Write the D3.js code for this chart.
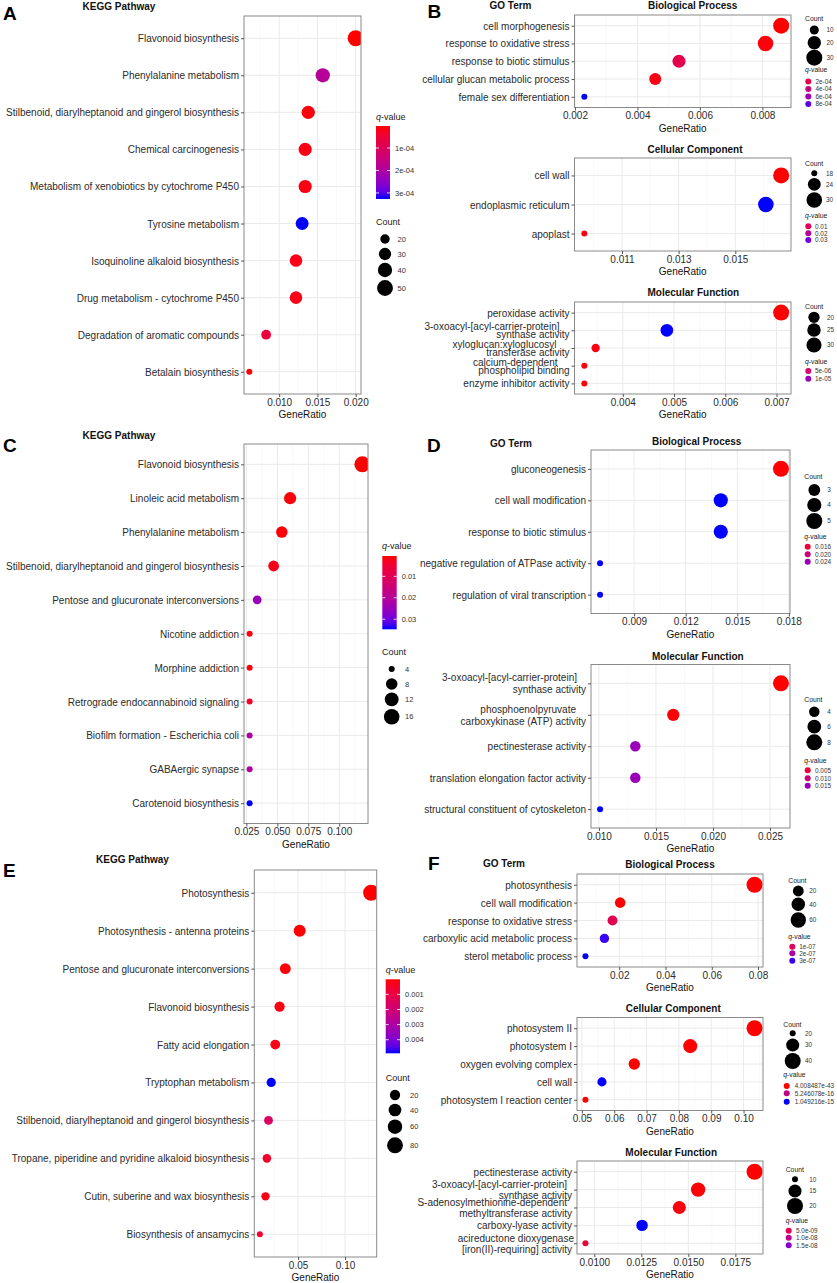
<!DOCTYPE html>
<html>
<head>
<meta charset="utf-8">
<script src="https://cdn.jsdelivr.net/npm/d3@7"></script>
<style>
  body { margin: 0; background: #fff; }
  svg { font-family: "Liberation Sans", Arial, Helvetica, sans-serif; }
</style>
</head>
<body>
<svg id="fig" width="837" height="1283"></svg>
<script>
// ---- data ----
// A: KEGG
const aTerms = ["Flavonoid biosynthesis", "Phenylalanine metabolism", "Stilbenoid, diarylheptanoid and gingerol biosynthesis",
  "Chemical carcinogenesis", "Metabolism of xenobiotics by cytochrome P450", "Tyrosine metabolism",
  "Isoquinoline alkaloid biosynthesis", "Drug metabolism - cytochrome P450", "Degradation of aromatic compounds", "Betalain biosynthesis"];
const aRatio = [0.0200, 0.0157, 0.0138, 0.0134, 0.0134, 0.0130, 0.0122, 0.0122, 0.0083, 0.0061];
const aCount = [51, 40, 35, 34, 34, 33, 31, 31, 21, 16];
const aQ = [2e-6, 1.85e-4, 8e-6, 1.2e-5, 1.2e-5, 3.27e-4, 1.5e-5, 1.5e-5, 6e-5, 5e-6];
const aTicks = [0.010, 0.015, 0.020];
const aCountBreaks = [20, 30, 40, 50];
const aQBreaks = [1e-4, 2e-4, 3e-4];
const aQLabels = ["1e-04", "2e-04", "3e-04"];

// B: GO
const bBpTerms = ["cell morphogenesis", "response to oxidative stress", "response to biotic stimulus",
  "cellular glucan metabolic process", "female sex differentiation"];
const bBpRatio = [0.0086, 0.0081, 0.00533, 0.00457, 0.0023];
const bBpCount = [30, 28, 19, 16, 8];
const bBpQ = [1e-5, 3e-5, 2.2e-4, 4e-5, 8.8e-4];
const bBpTicks = [0.002, 0.004, 0.006, 0.008];
const bBpCountBreaks = [10, 20, 30];
const bBpQBreaks = [2e-4, 4e-4, 6e-4, 8e-4];
const bBpQLabels = ["2e-04", "4e-04", "6e-04", "8e-04"];

const bCcTerms = ["cell wall", "endoplasmic reticulum", "apoplast"];
const bCcRatio = [0.01662, 0.01608, 0.00967];
const bCcCount = [31, 30, 18];
const bCcQ = [0.001, 0.035, 0.002];
const bCcTicks = [0.011, 0.013, 0.015];
const bCcCountBreaks = [18, 24, 30];
const bCcQBreaks = [0.01, 0.02, 0.03];
const bCcQLabels = ["0.01", "0.02", "0.03"];

const bMfTerms = ["peroxidase activity", "3-oxoacyl-[acyl-carrier-protein]\nsynthase activity",
  "xyloglucan:xyloglucosyl\ntransferase activity", "calcium-dependent\nphospholipid binding", "enzyme inhibitor activity"];
const bMfRatio = [0.00709, 0.00486, 0.00347, 0.00325, 0.00325];
const bMfCount = [33, 23, 16, 15, 15];
const bMfQ = [1e-7, 1.42e-5, 5e-7, 3e-7, 3e-7];
const bMfTicks = [0.004, 0.005, 0.006, 0.007];
const bMfCountBreaks = [20, 25, 30];
const bMfQBreaks = [5e-6, 1e-5];
const bMfQLabels = ["5e-06", "1e-05"];

// C: KEGG
const cTerms = ["Flavonoid biosynthesis", "Linoleic acid metabolism", "Phenylalanine metabolism",
  "Stilbenoid, diarylheptanoid and gingerol biosynthesis", "Pentose and glucuronate interconversions",
  "Nicotine addiction", "Morphine addiction", "Retrograde endocannabinoid signaling",
  "Biofilm formation - Escherichia coli", "GABAergic synapse", "Carotenoid biosynthesis"];
const cRatio = [0.1187, 0.0603, 0.0536, 0.0470, 0.0337, 0.0276, 0.0276, 0.0276, 0.0276, 0.0276, 0.0276];
const cCount = [17, 9, 8, 7, 5, 4, 4, 4, 4, 4, 4];
const cQ = [0.0005, 0.001, 0.001, 0.002, 0.025, 0.001, 0.001, 0.004, 0.021, 0.021, 0.0347];
const cTicks = [0.025, 0.050, 0.075, 0.100];
const cCountBreaks = [4, 8, 12, 16];
const cQBreaks = [0.01, 0.02, 0.03];
const cQLabels = ["0.01", "0.02", "0.03"];

// D: GO
const dBpTerms = ["gluconeogenesis", "cell wall modification", "response to biotic stimulus",
  "negative regulation of ATPase activity", "regulation of viral transcription"];
const dBpRatio = [0.01754, 0.01404, 0.01404, 0.00702, 0.00702];
const dBpCount = [5, 4, 4, 2, 2];
const dBpQ = [0.0138, 0.0283, 0.0283, 0.0283, 0.0283];
const dBpTicks = [0.009, 0.012, 0.015, 0.018];
const dBpCountBreaks = [3, 4, 5];
const dBpQBreaks = [0.016, 0.020, 0.024];
const dBpQLabels = ["0.016", "0.020", "0.024"];

const dMfTerms = ["3-oxoacyl-[acyl-carrier-protein]\nsynthase activity", "phosphoenolpyruvate\ncarboxykinase (ATP) activity",
  "pectinesterase activity", "translation elongation factor activity", "structural constituent of cytoskeleton"];
const dMfRatio = [0.02596, 0.01652, 0.01319, 0.01319, 0.01010];
const dMfCount = [8, 5, 4, 4, 3];
const dMfQ = [0.0023, 0.0025, 0.0150, 0.0150, 0.0203];
const dMfTicks = [0.010, 0.015, 0.020, 0.025];
const dMfCountBreaks = [4, 6, 8];
const dMfQBreaks = [0.005, 0.010, 0.015];
const dMfQLabels = ["0.005", "0.010", "0.015"];

// E: KEGG
const eTerms = ["Photosynthesis", "Photosynthesis - antenna proteins", "Pentose and glucuronate interconversions",
  "Flavonoid biosynthesis", "Fatty acid elongation", "Tryptophan metabolism",
  "Stilbenoid, diarylheptanoid and gingerol biosynthesis", "Tropane, piperidine and pyridine alkaloid biosynthesis",
  "Cutin, suberine and wax biosynthesis", "Biosynthesis of ansamycins"];
const eRatio = [0.1278, 0.0517, 0.0364, 0.0303, 0.0257, 0.0214, 0.0185, 0.0168, 0.0153, 0.0093];
const eCount = [82, 33, 24, 20, 17, 14, 12, 11, 10, 6];
const eQ = [1e-6, 5e-5, 1e-4, 1.5e-4, 2e-4, 0.0049, 0.0016, 0.0005, 0.0002, 0.0006];
const eTicks = [0.05, 0.10];
const eCountBreaks = [20, 40, 60, 80];
const eQBreaks = [0.001, 0.002, 0.003, 0.004];
const eQLabels = ["0.001", "0.002", "0.003", "0.004"];

// F: GO
const fBpTerms = ["photosynthesis", "cell wall modification", "response to oxidative stress",
  "carboxylic acid metabolic process", "sterol metabolic process"];
const fBpRatio = [0.0785, 0.0204, 0.0171, 0.0136, 0.0054];
const fBpCount = [68, 18, 15, 12, 5];
const fBpQ = [1.5e-8, 1.5e-8, 9e-8, 3.0e-7, 3.1e-7];
const fBpTicks = [0.02, 0.04, 0.06, 0.08];
const fBpCountBreaks = [20, 40, 60];
const fBpQBreaks = [1e-7, 2e-7, 3e-7];
const fBpQLabels = ["1e-07", "2e-07", "3e-07"];

const fCcTerms = ["photosystem II", "photosystem I", "oxygen evolving complex", "cell wall", "photosystem I reaction center"];
const fCcRatio = [0.1034, 0.0835, 0.0662, 0.0562, 0.0511];
const fCcCount = [40, 33, 26, 22, 20];
const fCcQ = [4.008487e-43, 1e-40, 1e-38, 1.049216e-15, 1e-35];
const fCcTicks = [0.05, 0.06, 0.07, 0.08, 0.09, 0.10];
const fCcCountBreaks = [20, 30, 40];
const fCcQBreaks = [4.008487e-43, 5.246078e-16, 1.049216e-15];
const fCcQLabels = ["4.008487e-43", "5.246078e-16", "1.049216e-15"];

const fMfTerms = ["pectinesterase activity", "3-oxoacyl-[acyl-carrier-protein]\nsynthase activity",
  "S-adenosylmethionine-dependent\nmethyltransferase activity", "carboxy-lyase activity",
  "acireductone dioxygenase\n[iron(II)-requiring] activity"];
const fMfRatio = [0.01852, 0.01552, 0.01452, 0.01254, 0.00953];
const fMfCount = [20, 17, 15, 13, 10];
const fMfQ = [1e-10, 3e-10, 5e-10, 1.9e-8, 3e-9];
const fMfTicks = [0.0100, 0.0125, 0.0150, 0.0175];
const fMfCountBreaks = [10, 15, 20];
const fMfQBreaks = [5e-9, 1e-8, 1.5e-8];
const fMfQLabels = ["5.0e-09", "1.0e-08", "1.5e-08"];

// ---- layout ----
const rMin = 3, rMax = 8;
const big = { tSize: 9, lSize: 7.5 };
const small = { tSize: 6.8, lSize: 6.4 };

const panels = [
  { terms: aTerms, ratio: aRatio, count: aCount, q: aQ, ticks: aTicks, fmt: ".3f",
    cBreaks: aCountBreaks, qBreaks: aQBreaks, qLabels: aQLabels,
    box: [244, 361, 16, 394],
    leg: { kind: "bar", bar: [376, 126, 199, 14], qTitle: [376, 119.5], qlx: 395,
           cTitle: [376, 225], cx: 385, lx: 397.5, items: [239, 254, 270, 288] } },
  { terms: bBpTerms, ratio: bBpRatio, count: bBpCount, q: bBpQ, ticks: bBpTicks, fmt: ".3f",
    cBreaks: bBpCountBreaks, qBreaks: bBpQBreaks, qLabels: bBpQLabels,
    box: [574.5, 791, 15, 107.5], sub: ["Biological Process", 692.7, 9.3],
    leg: { kind: "dots", cTitle: [805, 21], cx: 814.3, lx: 826.5, items: [30, 42.7, 57.7],
           qTitle: [805, 71.5], qcx: 808.3, qlx: 815.5, qItems: [81.5, 89, 96.5, 104] } },
  { terms: bCcTerms, ratio: bCcRatio, count: bCcCount, q: bCcQ, ticks: bCcTicks, fmt: ".3f",
    cBreaks: bCcCountBreaks, qBreaks: bCcQBreaks, qLabels: bCcQLabels,
    box: [574.5, 791, 158, 251], sub: ["Cellular Component", 695, 153.3],
    leg: { kind: "dots", cTitle: [805, 165.7], cx: 814.3, lx: 826, items: [173.3, 184.3, 200],
           qTitle: [805, 218], qcx: 808.3, qlx: 815, qItems: [226.3, 233.3, 240] } },
  { terms: bMfTerms, ratio: bMfRatio, count: bMfCount, q: bMfQ, ticks: bMfTicks, fmt: ".3f",
    cBreaks: bMfCountBreaks, qBreaks: bMfQBreaks, qLabels: bMfQLabels, lh: 7.8, firstDx: [0, -10, -13, -12, 0],
    box: [574.5, 791, 302, 394], sub: ["Molecular Function", 693.3, 295.7],
    leg: { kind: "dots", cTitle: [805, 309], cx: 814, lx: 827, items: [317.3, 330, 345],
           qTitle: [805, 364], qcx: 808.3, qlx: 815, qItems: [371, 378.7] } },
  { terms: cTerms, ratio: cRatio, count: cCount, q: cQ, ticks: cTicks, fmt: ".3f",
    cBreaks: cCountBreaks, qBreaks: cQBreaks, qLabels: cQLabels,
    box: [244, 368, 444, 823.5],
    leg: { kind: "bar", bar: [382.3, 556, 629.3, 14.4], qTitle: [382, 549.3], qlx: 401.7,
           cTitle: [382, 655.3], cx: 391.7, lx: 405, items: [669, 684, 699.3, 716.7] } },
  { terms: dBpTerms, ratio: dBpRatio, count: dBpCount, q: dBpQ, ticks: dBpTicks, fmt: ".3f",
    cBreaks: dBpCountBreaks, qBreaks: dBpQBreaks, qLabels: dBpQLabels,
    box: [591, 790, 450, 613.5], sub: ["Biological Process", 696.7, 445.3],
    leg: { kind: "dots", cTitle: [804.3, 479.3], cx: 814.3, lx: 827.3, items: [490, 505, 521],
           qTitle: [804.3, 539.3], qcx: 807.7, qlx: 815, qItems: [546.7, 554.3, 561.7] } },
  { terms: dMfTerms, ratio: dMfRatio, count: dMfCount, q: dMfQ, ticks: dMfTicks, fmt: ".3f",
    cBreaks: dMfCountBreaks, qBreaks: dMfQBreaks, qLabels: dMfQLabels, lh: 12, firstDx: [-9, -10, 0, 0, 0],
    box: [591, 790, 664.5, 828], sub: ["Molecular Function", 697.8, 660],
    leg: { kind: "dots", cTitle: [804.3, 702.3], cx: 814.3, lx: 827.3, items: [711.7, 726.7, 742.3],
           qTitle: [804.3, 762.7], qcx: 807.7, qlx: 815, qItems: [770.3, 778.3, 785.7] } },
  { terms: eTerms, ratio: eRatio, count: eCount, q: eQ, ticks: eTicks, fmt: ".2f",
    cBreaks: eCountBreaks, qBreaks: eQBreaks, qLabels: eQLabels,
    box: [254.3, 376.7, 870, 1257],
    leg: { kind: "bar", bar: [385.7, 979.3, 1053.3, 14.3], qTitle: [385.7, 972.7], qlx: 405,
           cTitle: [385.7, 1080.7], cx: 395, lx: 410, items: [1095, 1110, 1126.7, 1145.3] } },
  { terms: fBpTerms, ratio: fBpRatio, count: fBpCount, q: fBpQ, ticks: fBpTicks, fmt: ".2f",
    cBreaks: fBpCountBreaks, qBreaks: fBpQBreaks, qLabels: fBpQLabels,
    box: [577, 763, 874, 967], sub: ["Biological Process", 670, 868.3],
    leg: { kind: "dots", cTitle: [788.3, 882.7], cx: 798.3, lx: 809.3, items: [891, 904.3, 920],
           qTitle: [788.3, 939], qcx: 792.3, qlx: 799.3, qItems: [946.7, 953.3, 960.7] } },
  { terms: fCcTerms, ratio: fCcRatio, count: fCcCount, q: fCcQ, ticks: fCcTicks, fmt: ".2f",
    cBreaks: fCcCountBreaks, qBreaks: fCcQBreaks, qLabels: fCcQLabels,
    box: [577, 763, 1017.5, 1110.5], sub: ["Cellular Component", 673.3, 1012.3],
    leg: { kind: "dots", cTitle: [783.3, 1027.3], cx: 792.7, lx: 805, items: [1033.3, 1045, 1061],
           qTitle: [783.3, 1077.3], qcx: 786.7, qlx: 794.7, qItems: [1086, 1093.3, 1101.7] } },
  { terms: fMfTerms, ratio: fMfRatio, count: fMfCount, q: fMfQ, ticks: fMfTicks, fmt: ".4f",
    cBreaks: fMfCountBreaks, qBreaks: fMfQBreaks, qLabels: fMfQLabels, lh: 11, firstDx: [0, -5, -5, 0, 2],
    box: [577, 763, 1161, 1254], sub: ["Molecular Function", 671.2, 1155.7],
    leg: { kind: "dots", cTitle: [785.7, 1171.7], cx: 795, lx: 809.3, items: [1179.3, 1191, 1206],
           qTitle: [785.7, 1222.7], qcx: 788.7, qlx: 796, qItems: [1230.7, 1237.7, 1245.3] } }
];

const headers = [
  ["KEGG Pathway", 119, 9.5], ["GO Term", 510.5, 9.3],
  ["KEGG Pathway", 119, 439.3], ["GO Term", 511, 446.7],
  ["KEGG Pathway", 132.5, 863.3], ["GO Term", 504, 867.3]
];
const letters = [["A", 3, 19.5], ["B", 427.5, 17.5], ["C", 3, 451.7], ["D", 427, 451.7], ["E", 3, 876.7], ["F", 428, 870]];

const svg = d3.select("#fig");
let clipId = 0;

function qTitle(g, x, y, size) {
  const t = g.append("text").attr("x", x).attr("y", y).attr("font-size", size).attr("fill", "#1a1a1a");
  t.append("tspan").attr("font-style", "italic").text("q");
  t.append("tspan").text("-value");
}

function drawPanel(p) {
  const [x0, x1, y0, y1] = p.box;
  const g = svg.append("g");
  const [lo, hi] = d3.extent(p.ratio);
  const pad = (hi - lo) * 0.05;
  const x = d3.scaleLinear().domain([lo - pad, hi + pad]).range([x0, x1]);
  const y = d3.scalePoint().domain(p.terms).range([y0, y1]).padding(0.6);
  const color = d3.scaleLinear().domain(d3.extent(p.q)).range(["#FF0000", "#0000FF"])
    .interpolate(d3.interpolateLab).clamp(true);
  const sz = d3.scaleLinear().domain(d3.extent(p.count)).range([0, 1]).clamp(true);
  const r = c => rMin + (rMax - rMin) * Math.sqrt(sz(c));

  // grid
  const step = p.ticks[1] - p.ticks[0];
  const minor = [p.ticks[0] - step / 2, ...p.ticks.map(t => t + step / 2)]
    .filter(v => v > x.domain()[0] && v < x.domain()[1]);
  g.append("rect").attr("x", x0).attr("y", y0).attr("width", x1 - x0).attr("height", y1 - y0).attr("fill", "#fff");
  g.selectAll(".minor").data(minor).enter().append("line")
    .attr("x1", d => x(d)).attr("x2", d => x(d)).attr("y1", y0).attr("y2", y1)
    .attr("stroke", "#F3F3F3").attr("stroke-width", 0.5);
  g.selectAll(".vmajor").data(p.ticks).enter().append("line")
    .attr("x1", d => x(d)).attr("x2", d => x(d)).attr("y1", y0).attr("y2", y1)
    .attr("stroke", "#EAEAEA").attr("stroke-width", 1);
  g.selectAll(".hmajor").data(p.terms).enter().append("line")
    .attr("x1", x0).attr("x2", x1).attr("y1", d => y(d)).attr("y2", d => y(d))
    .attr("stroke", "#EAEAEA").attr("stroke-width", 1);

  // points, clipped to the panel
  const id = "clip" + (clipId++);
  svg.append("clipPath").attr("id", id).append("rect")
    .attr("x", x0).attr("y", y0).attr("width", x1 - x0).attr("height", y1 - y0);
  g.append("g").attr("clip-path", `url(#${id})`)
    .selectAll("circle").data(p.terms).enter().append("circle")
    .attr("cx", (d, i) => x(p.ratio[i])).attr("cy", d => y(d))
    .attr("r", (d, i) => r(p.count[i])).attr("fill", (d, i) => color(p.q[i]));

  g.append("rect").attr("x", x0).attr("y", y0).attr("width", x1 - x0).attr("height", y1 - y0)
    .attr("fill", "none").attr("stroke", "#8a8a8a").attr("stroke-width", 1);

  // axes
  const xa = g.append("g").attr("transform", `translate(0,${y1})`)
    .call(d3.axisBottom(x).tickValues(p.ticks).tickFormat(d3.format(p.fmt)).tickSize(3).tickPadding(1.5));
  const ya = g.append("g").attr("transform", `translate(${x0},0)`)
    .call(d3.axisLeft(y).tickSize(3).tickPadding(2));
  [xa, ya].forEach(a => {
    a.attr("font-family", null).attr("font-size", null);
    a.select(".domain").remove();
    a.selectAll(".tick line").attr("stroke", "#555");
    a.selectAll("text").attr("font-size", 10).attr("fill", "#2b2b2b");
  });
  const lh = p.lh || 11;
  ya.selectAll(".tick text").each(function (d, i) {
    const lines = d.split("\n");
    const t = d3.select(this).text(null).attr("dy", null);
    lines.forEach((s, k) => {
      const dx = (k === 0 && p.firstDx) ? p.firstDx[i] : 0;
      t.append("tspan").attr("x", -5 + dx)
        .attr("dy", k === 0 ? (0.35 * 10 - (lines.length - 1) * lh / 2) + "px" : lh + "px").text(s);
    });
  });
  g.append("text").attr("x", (x0 + x1) / 2).attr("y", y1 + 24).attr("text-anchor", "middle")
    .attr("font-size", 10).attr("fill", "#111").text("GeneRatio");

  if (p.sub) {
    g.append("text").attr("x", p.sub[1]).attr("y", p.sub[2]).attr("text-anchor", "middle")
      .attr("font-size", 10).attr("font-weight", "bold").attr("fill", "#111").text(p.sub[0]);
  }

  // legends
  const L = p.leg;
  const st = L.kind === "bar" ? big : small;
  g.append("text").attr("x", L.cTitle[0]).attr("y", L.cTitle[1]).attr("font-size", st.tSize)
    .attr("fill", "#1a1a1a").text("Count");
  p.cBreaks.forEach((c, i) => {
    g.append("circle").attr("cx", L.cx).attr("cy", L.items[i]).attr("r", r(c)).attr("fill", "#000");
    g.append("text").attr("x", L.lx).attr("y", L.items[i]).attr("dy", "0.35em")
      .attr("font-size", st.lSize).attr("fill", "#333").text(c);
  });
  qTitle(g, L.qTitle[0], L.qTitle[1], st.tSize);
  if (L.kind === "bar") {
    const [bx, by0, by1, bw] = L.bar;
    const gid = "grad" + clipId;
    const grad = svg.append("defs").append("linearGradient").attr("id", gid)
      .attr("x1", 0).attr("y1", 0).attr("x2", 0).attr("y2", 1);
    d3.range(0, 1.0001, 0.1).forEach(t => {
      const v = color.domain()[0] + t * (color.domain()[1] - color.domain()[0]);
      grad.append("stop").attr("offset", t).attr("stop-color", color(v));
    });
    g.append("rect").attr("x", bx).attr("y", by0).attr("width", bw).attr("height", by1 - by0)
      .attr("fill", `url(#${gid})`);
    const qy = d3.scaleLinear().domain(color.domain()).range([by0, by1]);
    p.qBreaks.forEach((b, i) => {
      g.append("line").attr("x1", bx).attr("x2", bx + 3).attr("y1", qy(b)).attr("y2", qy(b))
        .attr("stroke", "#fff").attr("stroke-width", 0.8);
      g.append("line").attr("x1", bx + bw - 3).attr("x2", bx + bw).attr("y1", qy(b)).attr("y2", qy(b))
        .attr("stroke", "#fff").attr("stroke-width", 0.8);
      g.append("text").attr("x", L.qlx).attr("y", qy(b)).attr("dy", "0.35em")
        .attr("font-size", st.lSize).attr("fill", "#333").text(p.qLabels[i]);
    });
  } else {
    p.qBreaks.forEach((b, i) => {
      g.append("circle").attr("cx", L.qcx).attr("cy", L.qItems[i]).attr("r", 3).attr("fill", color(b));
      g.append("text").attr("x", L.qlx).attr("y", L.qItems[i]).attr("dy", "0.35em")
        .attr("font-size", st.lSize).attr("fill", "#333").text(p.qLabels[i]);
    });
  }
}

panels.forEach(drawPanel);

headers.forEach(h => {
  svg.append("text").attr("x", h[1]).attr("y", h[2]).attr("text-anchor", "middle")
    .attr("font-size", 10).attr("font-weight", "bold").attr("fill", "#111").text(h[0]);
});
letters.forEach(l => {
  svg.append("text").attr("x", l[1]).attr("y", l[2]).attr("font-size", 19)
    .attr("font-weight", "bold").attr("fill", "#000").text(l[0]);
});
</script>
</body>
</html>
